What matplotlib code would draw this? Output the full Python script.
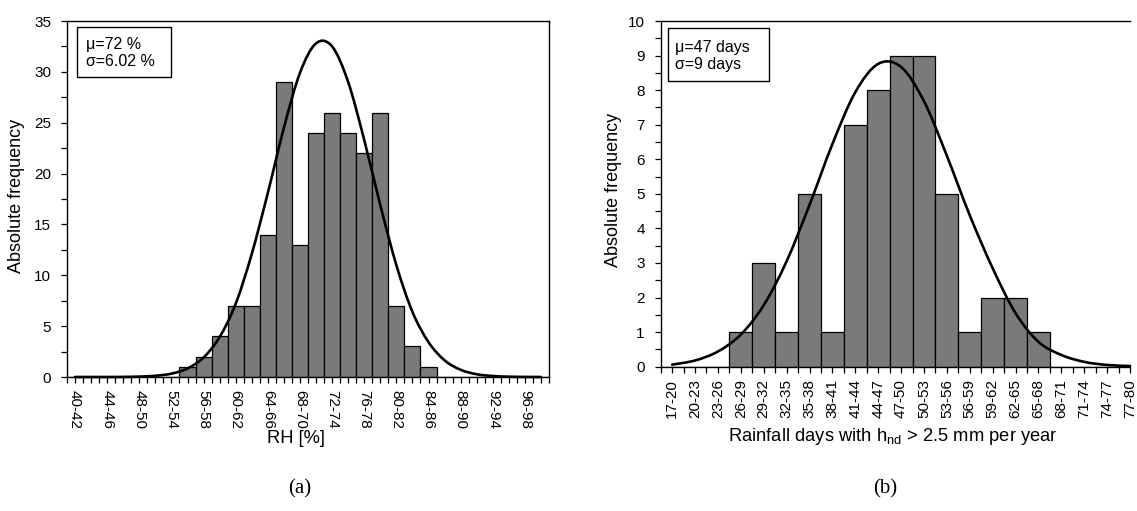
import numpy as np
import matplotlib
matplotlib.use('Agg')
from matplotlib import pyplot as plt
from matplotlib.patches import Rectangle, PathPatch
from matplotlib.path import Path

plt.rcParams['font.family'] = ['Liberation Sans', 'DejaVu Sans']
plt.rcParams['mathtext.fontset'] = 'custom'
plt.rcParams['mathtext.rm'] = 'Liberation Sans'

# (a) relative humidity, 2 % classes from 40 to 100
rh_bins = ['40-42', '42-44', '44-46', '46-48', '48-50', '50-52', '52-54', '54-56',
           '56-58', '58-60', '60-62', '62-64', '64-66', '66-68', '68-70', '70-72',
           '72-74', '74-76', '76-78', '78-80', '80-82', '82-84', '84-86', '86-88',
           '88-90', '90-92', '92-94', '94-96', '96-98', '98-100']
rh_counts = [0, 0, 0, 0, 0, 0, 0, 1, 2, 4, 7, 7, 14, 29, 13, 24,
             26, 24, 22, 26, 7, 3, 1, 0, 0, 0, 0, 0, 0, 0]
rh_normal = [0.0, 0.0, 0.0, 0.01, 0.04, 0.12, 0.33, 0.84, 1.92, 3.93, 7.2, 12.1,
             18.1, 24.5, 29.9, 32.8, 32.5, 29.0, 23.3, 16.9, 11.0, 6.4, 3.43, 1.64,
             0.71, 0.27, 0.1, 0.03, 0.01, 0.0]
rh_stats = 'μ=72 %\nσ=6.02 %'

# (b) rainfall days, 3-day classes from 17 to 80
rd_bins = ['17-20', '20-23', '23-26', '26-29', '29-32', '32-35', '35-38', '38-41',
           '41-44', '44-47', '47-50', '50-53', '53-56', '56-59', '59-62', '62-65',
           '65-68', '68-71', '71-74', '74-77', '77-80']
rd_counts = [0, 0, 0, 1, 3, 1, 5, 1, 7, 8, 9, 9, 5, 1, 2, 2, 1, 0, 0, 0, 0]
rd_normal = [0.06, 0.18, 0.44, 0.93, 1.78, 3.05, 4.68, 6.44, 7.94, 8.76, 8.67,
             7.68, 6.1, 4.38, 2.85, 1.55, 0.72, 0.34, 0.14, 0.05, 0.02]
rd_stats = 'μ=47 days\nσ=9 days'

W, H = 1137, 511
fig = plt.figure(figsize=(W / 100, H / 100), dpi=100)


def px_axes(x0, y0, x1, y1):
    # axes from pixel box (top-left origin)
    return fig.add_axes([x0 / W, 1 - y1 / H, (x1 - x0) / W, (y1 - y0) / H])


def smooth_line(ax, xs, ys, **kw):
    # Excel-like smoothed line: bezier segments through every point
    p = np.column_stack([xs, ys]).astype(float)
    ext = np.vstack([p[0], p, p[-1]])
    verts = [p[0]]
    codes = [Path.MOVETO]
    for i in range(len(p) - 1):
        c1 = ext[i + 1] + (ext[i + 2] - ext[i]) / 6.0
        c2 = ext[i + 2] - (ext[i + 3] - ext[i + 1]) / 6.0
        verts += [c1, c2, p[i + 1]]
        codes += [Path.CURVE4] * 3
    ax.add_patch(PathPatch(Path(verts, codes), fill=False, **kw))


bar_kw = dict(width=1.0, color='#7a7a7a', edgecolor='black', linewidth=0.9, zorder=2)
line_kw = dict(edgecolor='black', lw=1.9, zorder=3, capstyle='round', clip_on=False)
tick_fs = 11


def style_axes(ax):
    ax.tick_params(axis='both', which='both', direction='out', length=4, width=0.9,
                   labelsize=tick_fs, colors='black')
    ax.tick_params(axis='y', which='major', pad=7.5)
    ax.tick_params(axis='x', which='major', pad=5)
    for s in ax.spines.values():
        s.set_linewidth(1.0)
        s.set_color('black')


# ---- left chart
ax1 = px_axes(67, 21, 549, 377)
x1 = np.arange(len(rh_bins))
ax1.bar(x1, rh_counts, **bar_kw)
smooth_line(ax1, x1, rh_normal, **line_kw)
ax1.set_xlim(-0.5, len(rh_bins) - 0.5)
ax1.set_ylim(0, 35)
ax1.set_yticks(np.arange(0, 36, 5))
ax1.set_yticks(np.arange(0, 35.1, 2.5), minor=True)
ax1.set_xticks(x1)
ax1.set_xticklabels([b if i % 2 == 0 else '' for i, b in enumerate(rh_bins)], rotation=270)
ax1.set_xticks(np.arange(-0.5, len(rh_bins), 1.0), minor=True)
style_axes(ax1)
ax1.set_ylabel('Absolute frequency', fontsize=13)
ax1.yaxis.set_label_coords(-0.087, 0.51)
ax1.set_xlabel('RH [%]', fontsize=13.2)
ax1.xaxis.set_label_coords(0.475, -0.148)
ax1.add_patch(Rectangle((0.02, 0.842), 0.195, 0.142, transform=ax1.transAxes,
                        fill=True, fc='white', ec='black', lw=1.0, zorder=4))
ax1.text(0.04, 0.955, rh_stats, transform=ax1.transAxes, va='top', ha='left',
         fontsize=11.5, linespacing=1.2, zorder=5)

# ---- right chart
ax2 = px_axes(660.7, 21, 1130, 366.7)
x2 = np.arange(len(rd_bins))
ax2.bar(x2, rd_counts, **bar_kw)
smooth_line(ax2, x2, rd_normal, **line_kw)
ax2.set_xlim(-0.5, len(rd_bins) - 1)
ax2.set_ylim(0, 10)
ax2.set_yticks(np.arange(0, 11, 1))
ax2.set_yticks(np.arange(0, 10.1, 0.5), minor=True)
ax2.set_xticks(x2)
ax2.set_xticklabels(rd_bins, rotation=90)
ax2.set_xticks(np.arange(-0.5, len(rd_bins) - 1, 1.0), minor=True)
style_axes(ax2)
ax2.spines['right'].set_visible(False)
ax2.set_ylabel('Absolute frequency', fontsize=13)
ax2.yaxis.set_label_coords(-0.083, 0.51)
ax2.set_xlabel(r'Rainfall days with h$_{\mathregular{nd}}$ > 2.5 mm per year', fontsize=13.2)
ax2.xaxis.set_label_coords(0.495, -0.172)
ax2.add_patch(Rectangle((0.015, 0.825), 0.216, 0.156, transform=ax2.transAxes,
                        fill=True, fc='white', ec='black', lw=1.0, zorder=4))
ax2.text(0.03, 0.945, rd_stats, transform=ax2.transAxes, va='top', ha='left',
         fontsize=11.5, linespacing=1.2, zorder=5)

# panel letters
fig.text(300 / W, 1 - 489 / H, '(a)', ha='center', va='center',
         family='Liberation Serif', fontsize=15)
fig.text(885 / W, 1 - 489 / H, '(b)', ha='center', va='center',
         family='Liberation Serif', fontsize=15)

fig.savefig('out.png', dpi=100)
